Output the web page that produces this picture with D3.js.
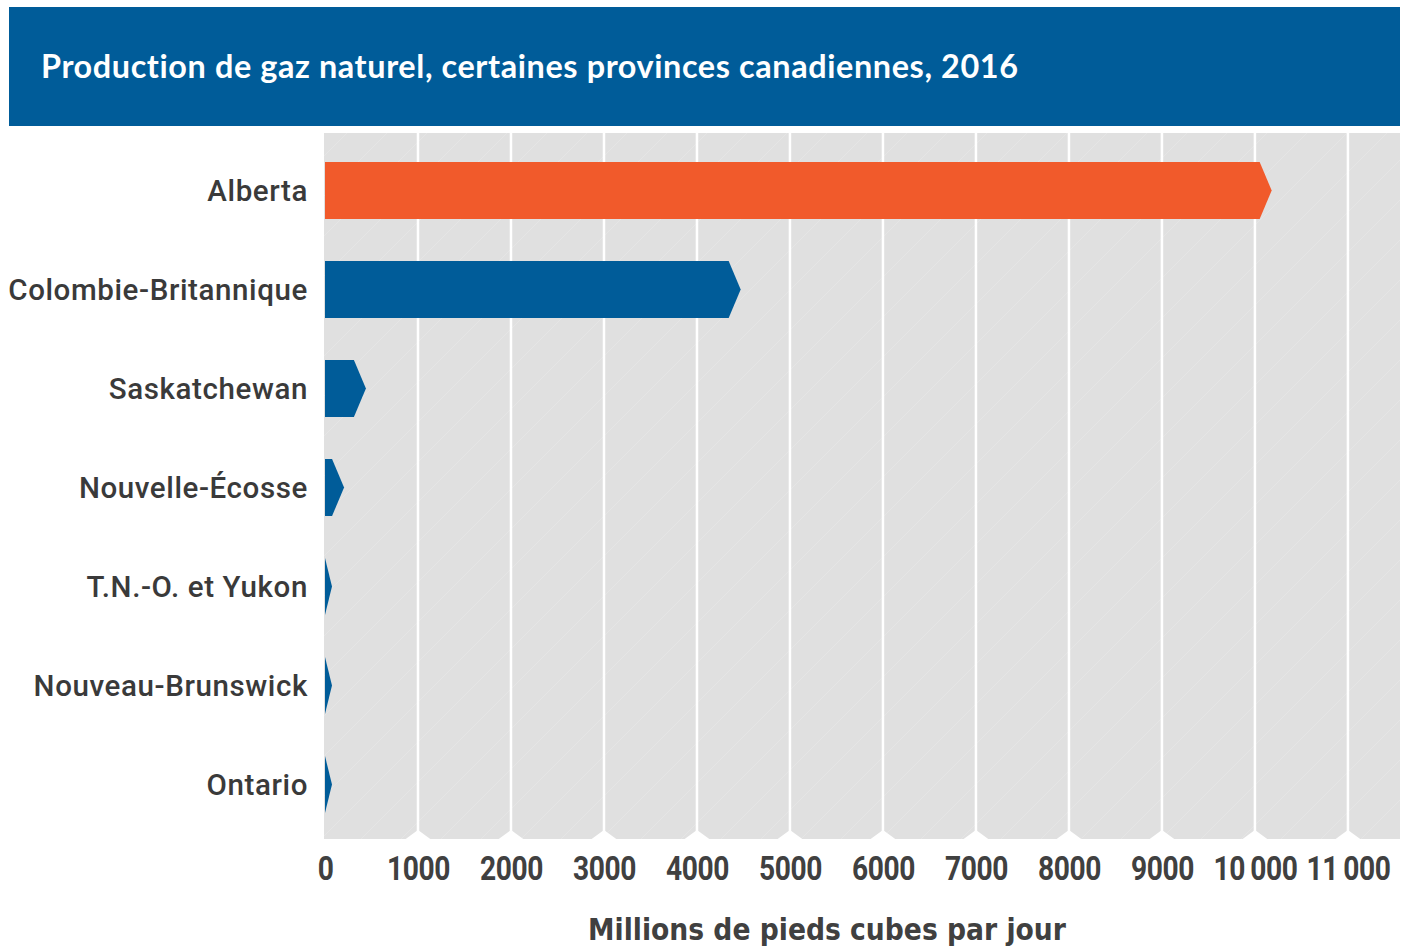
<!DOCTYPE html>
<html>
<head>
<meta charset="utf-8">
<script src="https://cdn.jsdelivr.net/npm/d3@7"></script>
<style>
  body { margin: 0; background: #fff; }
  svg { display: block; }
</style>
</head>
<body>
<div id="chart"></div>
<script>
// data
var categories = ["Alberta", "Colombie-Britannique", "Saskatchewan", "Nouvelle-Écosse",
                  "T.N.-O. et Yukon", "Nouveau-Brunswick", "Ontario"];
var values = [10180, 4470, 440, 205, 75, 75, 75];
var highlighted = ["Alberta"];
var tickValues = [0, 1000, 2000, 3000, 4000, 5000, 6000, 7000, 8000, 9000, 10000, 11000];
var tickLabels = ["0", "1000", "2000", "3000", "4000", "5000", "6000", "7000", "8000", "9000",
                  "10\u2009000", "11\u2009000"];
var title = "Production de gaz naturel, certaines provinces canadiennes, 2016";
var axisTitle = "Millions de pieds cubes par jour";

var width = 1408, height = 949;
var blue = "#005c99", orange = "#f15a2b", grey = "#e0e0e0", textCol = "#3a3a3a";

var svg = d3.select("#chart").append("svg")
    .attr("width", width)
    .attr("height", height);

// scales
var x = d3.scaleLinear().domain([0, 11560]).range([325, 1400]);
var y = d3.scaleBand().domain(categories).range([141, 834])
    .paddingInner(0.424).paddingOuter(0.212);
var plotTop = 133, plotBottom = 839;

// fit a text to a target width by changing its font size
function fit(sel, target) {
    var w = sel.node().getComputedTextLength();
    var fs = parseFloat(sel.attr("font-size"));
    sel.attr("font-size", fs * target / w);
    return fs * target / w;
}

// header
svg.append("rect")
    .attr("x", 9).attr("y", 7)
    .attr("width", 1391).attr("height", 119)
    .attr("fill", blue);

var t = svg.append("text")
    .attr("x", 41).attr("y", 78)
    .attr("font-family", "Lato, 'Open Sans', sans-serif")
    .attr("font-weight", "bold")
    .attr("font-size", 30)
    .attr("fill", "#fff")
    .style("letter-spacing", "0.6px")
    .text(title);
fit(t, 981);

// pattern for the faint diagonal texture
var defs = svg.append("defs");
var pat = defs.append("pattern")
    .attr("id", "hatch")
    .attr("patternUnits", "userSpaceOnUse")
    .attr("width", 40).attr("height", 40);
pat.append("rect").attr("width", 40).attr("height", 40).attr("fill", grey);
pat.append("path")
    .attr("d", "M0,40 L40,0")
    .attr("stroke", "#fff")
    .attr("stroke-opacity", 0.15)
    .attr("stroke-width", 1);

// plot background
svg.append("rect")
    .attr("x", x(0) - 1).attr("y", plotTop)
    .attr("width", 1400 - x(0) + 1).attr("height", plotBottom - plotTop)
    .attr("fill", "url(#hatch)");

// gridlines
var grid = svg.append("g").attr("class", "grid");
grid.selectAll("line")
    .data(tickValues.filter(function(d) { return d > 0; }))
    .enter().append("line")
    .attr("x1", d => x(d)).attr("x2", d => x(d))
    .attr("y1", plotTop).attr("y2", plotBottom)
    .attr("stroke", "#fff")
    .attr("stroke-width", 2.5);

// little chevron notches at the foot of each gridline
grid.selectAll("path")
    .data(tickValues.filter(function(d) { return d > 0; }))
    .enter().append("path")
    .attr("d", d => "M" + (x(d) - 13) + "," + (plotBottom + 0.5) + " L" + x(d) + "," + (plotBottom - 9) +
                    " L" + (x(d) + 13) + "," + (plotBottom + 0.5) + " Z")
    .attr("fill", "#fff");

// bars with arrow tips
function arrow(d, i) {
    var x0 = x(0), len = x(values[i]) - x0;
    var tip = Math.min(12, len);
    var xr = x0 + len - tip, xe = x0 + len;
    var y0 = y(d), y1 = y(d) + y.bandwidth(), ym = (y0 + y1) / 2;
    return "M" + x0 + "," + y0 + " H" + xr + " L" + xe + "," + ym +
           " L" + xr + "," + y1 + " H" + x0 + " Z";
}

svg.append("g").attr("class", "bars")
    .selectAll("path")
    .data(categories)
    .enter().append("path")
    .attr("d", arrow)
    .attr("fill", d => highlighted.indexOf(d) >= 0 ? orange : blue);

// category labels
var yAxis = svg.append("g").attr("class", "y axis")
    .attr("transform", "translate(308,0)")
    .call(d3.axisLeft(y).tickSize(0).tickPadding(0));
yAxis.select(".domain").remove();
yAxis.selectAll("text")
    .attr("font-family", "Roboto, 'DejaVu Sans', sans-serif")
    .attr("font-weight", 500)
    .attr("font-size", 27)
    .attr("fill", textCol)
    .attr("dy", "0.35em")
    .style("letter-spacing", "0.6px");
var cb = yAxis.selectAll("text").filter(d => d === "Colombie-Britannique");
var fs = fit(cb, 301);
yAxis.selectAll("text").attr("font-size", fs);

// x tick labels: bold, squeezed horizontally to look condensed
var xAxis = svg.append("g").attr("class", "x axis")
    .attr("transform", "translate(0," + 880 + ")")
    .call(d3.axisBottom(x).tickValues(tickValues).tickSize(0).tickPadding(0)
          .tickFormat((d, i) => tickLabels[i]));
xAxis.select(".domain").remove();
xAxis.selectAll("text")
    .attr("font-family", "Roboto, 'DejaVu Sans', sans-serif")
    .attr("font-weight", "bold")
    .attr("font-size", 34)
    .attr("fill", "#404040")
    .attr("dy", 0)
    .attr("y", 0)
    .style("letter-spacing", "-0.5px");
var k = xAxis.selectAll("text").filter(d => d === 1000);
var sx = 63 / k.node().getComputedTextLength();
xAxis.selectAll("text").attr("transform", "scale(" + sx + ",1)");

// axis title
var at = svg.append("text")
    .attr("x", 827).attr("y", 940)
    .attr("text-anchor", "middle")
    .attr("font-family", "'DejaVu Sans Condensed', 'Liberation Sans Narrow', sans-serif")
    .attr("font-weight", "bold")
    .attr("font-size", 30)
    .attr("fill", "#404040")
    .text(axisTitle);
fit(at, 478);
</script>
</body>
</html>
